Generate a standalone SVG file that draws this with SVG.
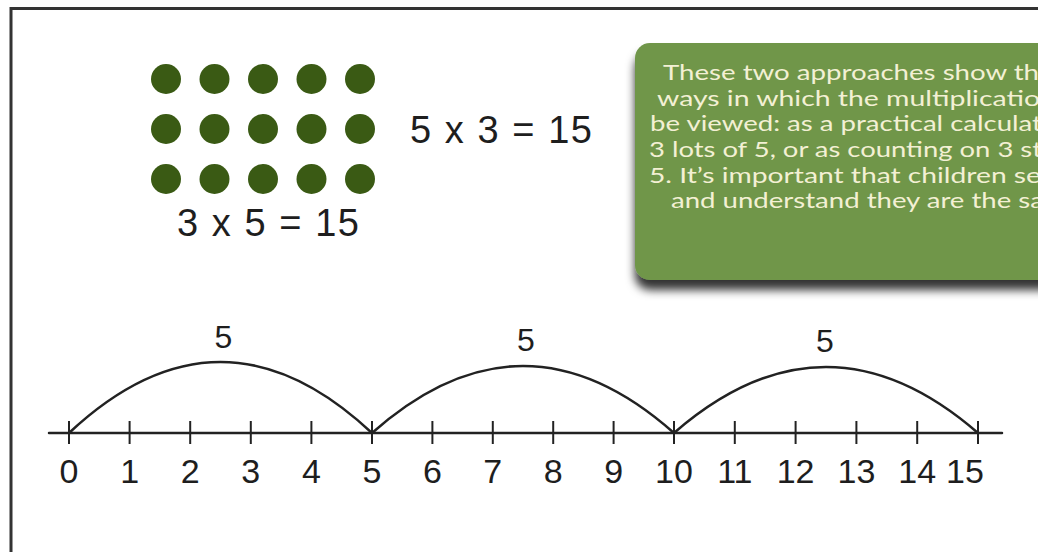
<svg xmlns="http://www.w3.org/2000/svg" width="1038" height="552" viewBox="0 0 1038 552">
  <style>
    .dot { fill: #3a5a14; }
    .hand { font-family: "Liberation Sans", "DejaVu Sans", sans-serif; fill: #1e1e1e; }
    .num { font-size: 34px; text-anchor: middle; }
    .lbl { font-size: 32px; text-anchor: middle; }
    .eq { font-size: 38px; }
    .note { font-family: "Lato", "Open Sans", "Liberation Sans", sans-serif; font-size: 22px; fill: #f3f0d4; }
    .line { stroke: #222; stroke-width: 2.5; fill: none; stroke-linecap: round; }
    .tick { stroke: #222; stroke-width: 2; }
  </style>
  <defs>
    <filter id="shadow" x="-10%" y="-10%" width="130%" height="140%">
      <feDropShadow dx="0" dy="10" stdDeviation="5" flood-color="#000" flood-opacity="0.8"/>
    </filter>
  </defs>
  <rect x="0" y="0" width="1038" height="552" fill="#ffffff"/>
  <rect id="frame" x="11" y="8.5" width="1100" height="600" fill="#ffffff" stroke="#333" stroke-width="3"/>

  <g id="array">
    <circle class="dot" cx="166" cy="79" r="15"/>
    <circle class="dot" cx="214.5" cy="79" r="15"/>
    <circle class="dot" cx="263" cy="79" r="15"/>
    <circle class="dot" cx="311.5" cy="79" r="15"/>
    <circle class="dot" cx="360" cy="79" r="15"/>
    <circle class="dot" cx="166" cy="129" r="15"/>
    <circle class="dot" cx="214.5" cy="129" r="15"/>
    <circle class="dot" cx="263" cy="129" r="15"/>
    <circle class="dot" cx="311.5" cy="129" r="15"/>
    <circle class="dot" cx="360" cy="129" r="15"/>
    <circle class="dot" cx="166" cy="179" r="15"/>
    <circle class="dot" cx="214.5" cy="179" r="15"/>
    <circle class="dot" cx="263" cy="179" r="15"/>
    <circle class="dot" cx="311.5" cy="179" r="15"/>
    <circle class="dot" cx="360" cy="179" r="15"/>
  </g>

  <g id="eq-3x5">
    <text class="hand eq" x="177" y="236" textLength="182" lengthAdjust="spacing">3 x 5 = 15</text>
  </g>
  <g id="eq-5x3">
    <text class="hand eq" x="410" y="142.5" font-size="36" textLength="182" lengthAdjust="spacing">5 x 3 = 15</text>
  </g>

  <g id="note">
    <rect x="635" y="43" width="520" height="237" rx="15" ry="15" fill="#70964a" filter="url(#shadow)"/>
    <text class="note" x="663" y="79.5" textLength="376" lengthAdjust="spacingAndGlyphs">These two approaches show th</text>
    <text class="note" x="657" y="105.5" textLength="383" lengthAdjust="spacingAndGlyphs">ways in which the multiplicatio</text>
    <text class="note" x="650" y="131" textLength="392" lengthAdjust="spacingAndGlyphs">be viewed: as a practical calculat</text>
    <text class="note" x="649" y="156.5" textLength="393" lengthAdjust="spacingAndGlyphs">3 lots of 5, or as counting on 3 st</text>
    <text class="note" x="649" y="182.5" textLength="392" lengthAdjust="spacingAndGlyphs">5. It’s important that children se</text>
    <text class="note" x="671" y="208" textLength="373" lengthAdjust="spacingAndGlyphs">and understand they are the sa</text>
  </g>

  <g id="connectors">
    <line class="line" x1="49" y1="433" x2="1002" y2="433"/>
    <path class="line" d="M69,433 Q220.5,291 372,433"/>
    <path class="line" d="M372,433 Q523,299 674,433"/>
    <path class="line" d="M674,433 Q826,301 978,433"/>
  </g>

  <g id="ticks">
    <line class="tick" x1="69" y1="421" x2="69" y2="444"/>
    <line class="tick" x1="129.6" y1="421" x2="129.6" y2="444"/>
    <line class="tick" x1="190.2" y1="421" x2="190.2" y2="444"/>
    <line class="tick" x1="250.8" y1="421" x2="250.8" y2="444"/>
    <line class="tick" x1="311.4" y1="421" x2="311.4" y2="444"/>
    <line class="tick" x1="372" y1="421" x2="372" y2="444"/>
    <line class="tick" x1="432.4" y1="421" x2="432.4" y2="444"/>
    <line class="tick" x1="492.8" y1="421" x2="492.8" y2="444"/>
    <line class="tick" x1="553.2" y1="421" x2="553.2" y2="444"/>
    <line class="tick" x1="613.6" y1="421" x2="613.6" y2="444"/>
    <line class="tick" x1="674" y1="421" x2="674" y2="444"/>
    <line class="tick" x1="734.8" y1="421" x2="734.8" y2="444"/>
    <line class="tick" x1="795.6" y1="421" x2="795.6" y2="444"/>
    <line class="tick" x1="856.4" y1="421" x2="856.4" y2="444"/>
    <line class="tick" x1="917.2" y1="421" x2="917.2" y2="444"/>
    <line class="tick" x1="978" y1="421" x2="978" y2="444"/>
  </g>

  <g id="numbers" class="hand num">
    <text x="69" y="483">0</text>
    <text x="129.6" y="483">1</text>
    <text x="190.2" y="483">2</text>
    <text x="250.8" y="483">3</text>
    <text x="311.4" y="483">4</text>
    <text x="372" y="483">5</text>
    <text x="432.4" y="483">6</text>
    <text x="492.8" y="483">7</text>
    <text x="553.2" y="483">8</text>
    <text x="613.6" y="483">9</text>
    <text x="674" y="483">10</text>
    <text x="734.8" y="483">11</text>
    <text x="795.6" y="483">12</text>
    <text x="856.4" y="483">13</text>
    <text x="917.2" y="483">14</text>
    <text x="965" y="483">15</text>
  </g>

  <g id="jump-labels" class="hand lbl">
    <text x="223.5" y="348">5</text>
    <text x="526" y="351">5</text>
    <text x="825" y="352">5</text>
  </g>
</svg>
